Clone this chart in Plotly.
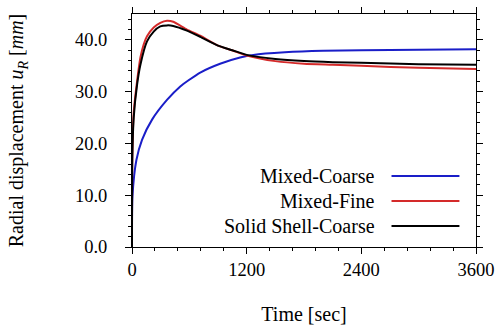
import plotly.graph_objects as go

# ---- data ----
series_names = ["Mixed-Coarse", "Mixed-Fine", "Solid Shell-Coarse"]

t_coarse = [0, 5, 46, 105, 210, 366, 505, 592, 714, 922, 1131, 1270, 1600, 2000, 2400, 3000, 3600]
u_coarse = [0, 9.8, 16.8, 20.7, 24.6, 28.4, 31.0, 32.2, 33.7, 35.4, 36.6, 37.1, 37.6, 37.9, 38.0, 38.1, 38.2]

t_fine = [0, 3, 18, 53, 88, 122, 157, 227, 296, 366, 432, 575, 714, 900, 1060, 1200, 1500, 1800, 2100, 2400, 3000, 3600]
u_fine = [0, 17.0, 26.0, 32.0, 36.6, 39.1, 40.7, 42.4, 43.3, 43.7, 43.5, 42.0, 40.8, 38.9, 37.9, 37.0, 35.9, 35.4, 35.2, 35.0, 34.6, 34.4]

t_solid = [0, 3, 18, 53, 88, 157, 227, 296, 366, 432, 575, 714, 900, 1050, 1200, 1500, 1800, 2100, 2400, 3000, 3600]
u_solid = [0, 17.0, 25.0, 31.3, 35.2, 39.7, 41.6, 42.6, 42.8, 42.7, 41.8, 40.6, 38.9, 38.0, 37.1, 36.3, 35.9, 35.7, 35.6, 35.3, 35.2]

x_ticks = [0, 1200, 2400, 3600]
y_ticks = [0, 10, 20, 30, 40]

colors = ["#1a1ec8", "#d42a2a", "#000000"]
FONT = "serif"

fig = go.Figure()
for tt, uu, name, c in zip([t_coarse, t_fine, t_solid], [u_coarse, u_fine, u_solid], series_names, colors):
    fig.add_trace(go.Scatter(x=tt, y=uu, mode="lines", name=name,
                             line=dict(color=c, width=2, shape="spline", smoothing=0.6),
                             showlegend=False))

# manual legend: right-aligned text with line sample on the right
leg_y = [0.305, 0.197, 0.090]
for name, c, yy in zip(series_names, colors, leg_y):
    fig.add_annotation(x=0.7125, y=yy, xref="paper", yref="paper", text=name,
                       showarrow=False, xanchor="right", yanchor="middle",
                       font=dict(family=FONT, size=20, color="black"))
    fig.add_shape(type="line", xref="paper", yref="paper", x0=0.7544, x1=0.9518,
                  y0=yy, y1=yy, line=dict(color=c, width=2))

axis_common = dict(showline=True, linecolor="black", linewidth=1, mirror="ticks",
                   ticks="outside", ticklen=6, tickwidth=1, tickcolor="black",
                   showgrid=False, zeroline=False, automargin=False,
                   tickfont=dict(family=FONT, size=18.5, color="black"))

fig.update_xaxes(range=[0, 3600], tickvals=x_ticks, ticktext=[str(v) for v in x_ticks],
                 minor=dict(dtick=240, tick0=0, ticks="outside", ticklen=3, tickcolor="black", showgrid=False),
                 title=dict(text="Time [sec]", font=dict(family=FONT, size=20, color="black"), standoff=27),
                 ticklabelstandoff=0,
                 **axis_common)
fig.update_yaxes(range=[0, 45], tickvals=y_ticks, ticktext=[f"{v:.1f}" for v in y_ticks],
                 minor=dict(dtick=2, tick0=0, ticks="outside", ticklen=3, tickcolor="black", showgrid=False),
                 title=dict(text="Radial displacement <i>u</i><sub><i>R</i></sub> [<i>mm</i>]",
                            font=dict(family=FONT, size=20, color="black"), standoff=45),
                 ticklabelstandoff=14,
                 **axis_common)

fig.update_layout(width=496, height=327, margin=dict(l=132, r=20, t=14, b=80),
                  paper_bgcolor="white", plot_bgcolor="white",
                  font=dict(family=FONT, size=18.5, color="black"))

fig.write_html("out.html", config={"displayModeBar": False},
               post_script="document.body.style.margin='0';document.body.style.overflow='hidden';")
